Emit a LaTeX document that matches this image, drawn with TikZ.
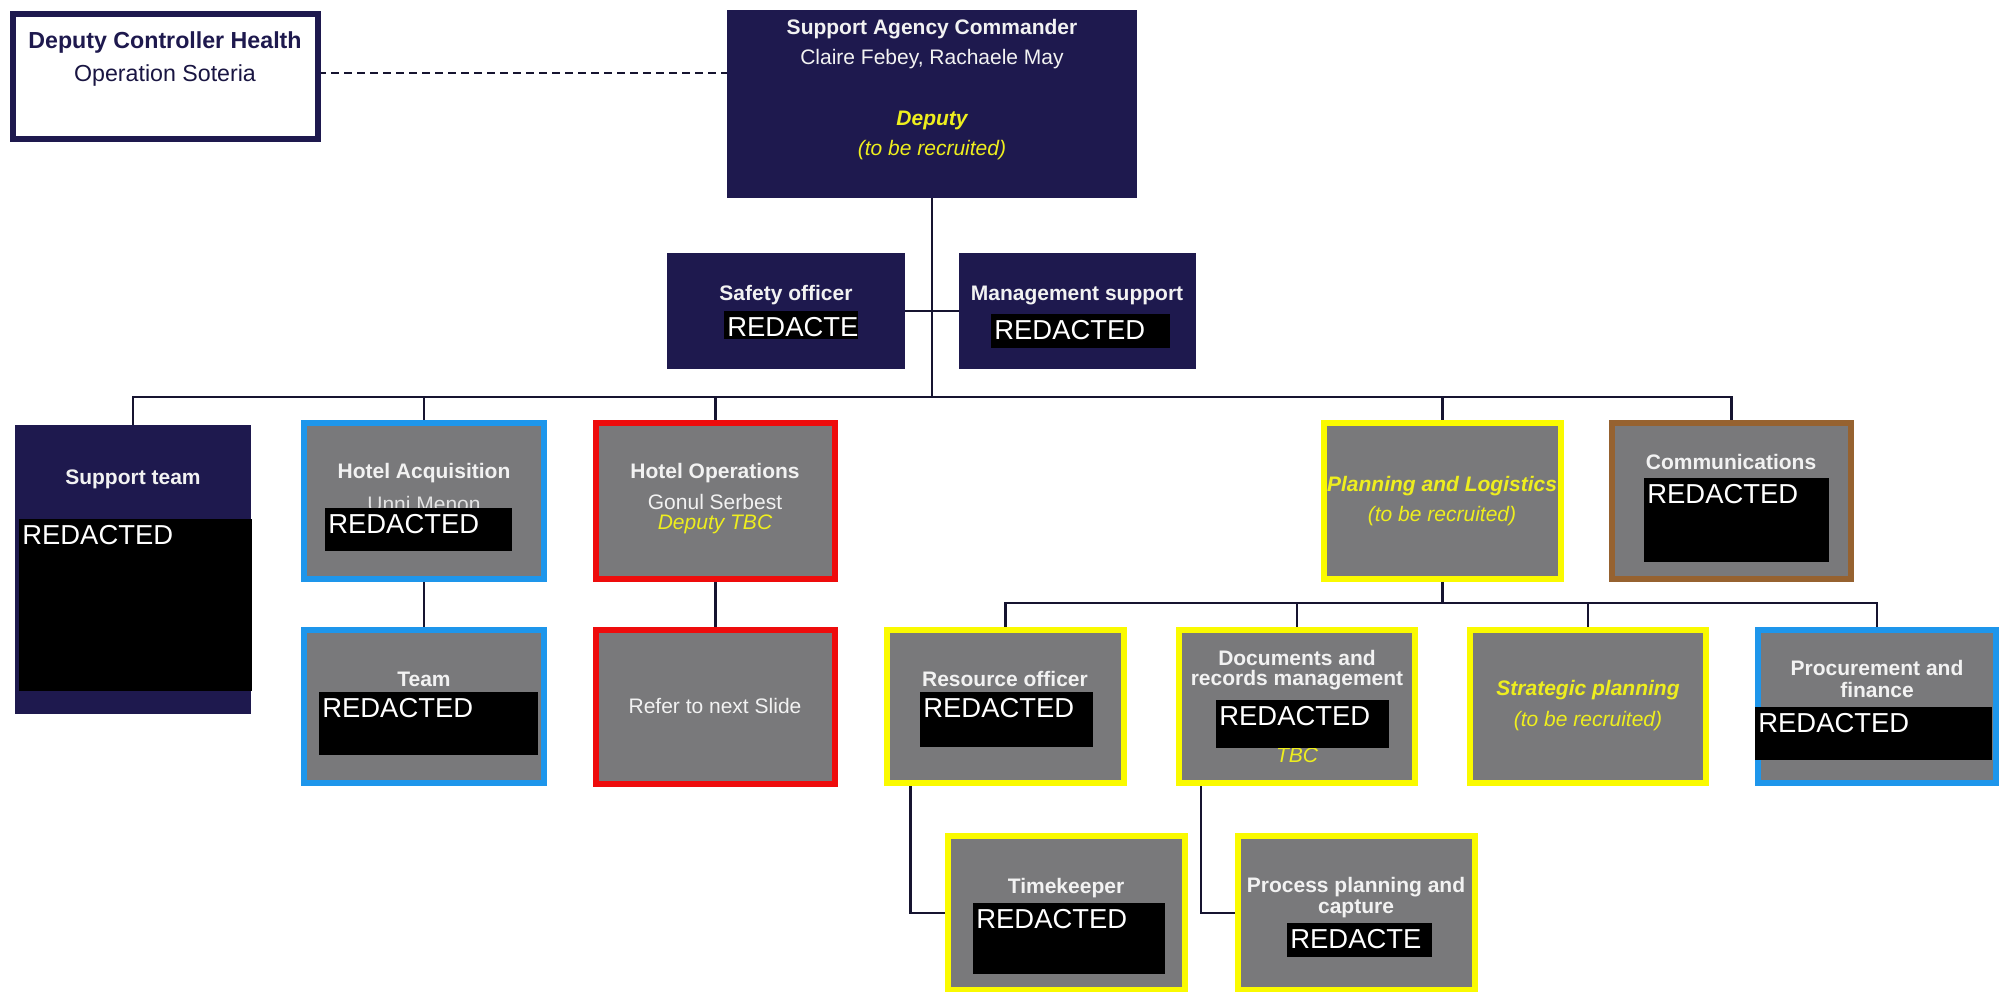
\documentclass[tikz,border=0pt]{standalone}
\usepackage{fontspec}
\setmainfont{Liberation Sans}
\usetikzlibrary{calc,backgrounds}

\definecolor{navy}{RGB}{30,25,78}
\definecolor{boxgray}{RGB}{121,121,123}
\definecolor{edgeblue}{RGB}{30,150,235}
\definecolor{edgered}{RGB}{238,12,12}
\definecolor{edgeyellow}{RGB}{250,250,0}
\definecolor{edgebrown}{RGB}{150,98,48}
\definecolor{txtyellow}{RGB}{238,238,30}
\definecolor{txtwhite}{RGB}{242,242,242}
\definecolor{linkcol}{RGB}{22,20,48}

% #1 name, #2 style, #3 border width (px), #4..#7 outer corners (px)
\newcommand{\orgbox}[7]{%
  \node[#2, minimum width={(#6-#4-#3)*0.5pt}, minimum height={(#7-#5-#3)*0.5pt}]
    (#1) at ({(#4+#6)/2},{(#5+#7)/2}) {};}
% #1 name, #2..#5 corners (px), #6 text
\newcommand{\blackbar}[6]{%
  \node[blackout, minimum width={(#4-#2)*0.5pt}, minimum height={(#5-#3)*0.5pt}]
    (#1) at ({(#2+#4)/2},{(#3+#5)/2}) {};
  \node[blacktext, anchor=west] (#1-txt) at ($(#1.north west)+(3,16)$) {#6};}

\tikzset{
  base/.style={rectangle, inner sep=0pt, outer sep=0pt},
  whitebox/.style={base, draw=navy, line width=3pt, fill=white},
  navybox/.style={base, fill=navy},
  frameblue/.style={base, draw=edgeblue, line width=3pt, fill=boxgray},
  framered/.style={base, draw=edgered, line width=3pt, fill=boxgray},
  frameyellow/.style={base, draw=edgeyellow, line width=3pt, fill=boxgray},
  framebrown/.style={base, draw=edgebrown, line width=3pt, fill=boxgray},
  blackout/.style={base, fill=black},
  blacktext/.style={inner sep=0pt, text=white, font=\fontsize{13.7}{16}\selectfont},
  lblreg/.style={inner sep=0pt, text=txtwhite, font=\fontsize{10.5}{12.6}\selectfont},
  lblbold/.style={inner sep=0pt, text=txtwhite, font=\bfseries\fontsize{10.5}{12.6}\selectfont},
  lblit/.style={inner sep=0pt, text=txtyellow, font=\itshape\fontsize{10.5}{12.6}\selectfont},
  lblbi/.style={inner sep=0pt, text=txtyellow, font=\bfseries\itshape\fontsize{10.5}{12.6}\selectfont},
  link/.style={draw=linkcol, line width=1.4pt},
}

\begin{document}
\begin{tikzpicture}[x=0.5pt, y=-0.5pt]
\useasboundingbox (0,0) rectangle (2007,991);

% ---------- boxes ----------
\orgbox{dch}{whitebox}{6}{10}{11}{321}{142}
\orgbox{sac}{navybox}{0}{727}{10}{1137}{198}
\orgbox{safety}{navybox}{0}{667}{253}{905}{369}
\orgbox{mgmt}{navybox}{0}{959}{253}{1196}{369}

\orgbox{st}{navybox}{0}{15}{425}{251}{714}
\orgbox{ha}{frameblue}{6}{301}{420}{547}{582}
\orgbox{team}{frameblue}{6}{301}{627}{547}{786}
\orgbox{ho}{framered}{6}{593}{420}{838}{582}
\orgbox{refer}{framered}{6}{593}{627}{838}{787}
\orgbox{pl}{frameyellow}{6}{1321}{420}{1564}{582}
\orgbox{comms}{framebrown}{6}{1609}{420}{1854}{582}

\orgbox{res}{frameyellow}{6}{884}{627}{1127}{786}
\orgbox{docs}{frameyellow}{6}{1176}{627}{1418}{786}
\orgbox{strat}{frameyellow}{6}{1467}{627}{1709}{786}
\orgbox{proc}{frameblue}{6}{1755}{627}{1999}{786}

\orgbox{tk}{frameyellow}{6}{945}{833}{1188}{993}
\orgbox{ppc}{frameyellow}{6}{1235}{833}{1478}{993}

% ---------- connectors ----------
\begin{scope}[on background layer]
  \coordinate (busA) at (933,397);
  \coordinate (busB) at (1442,603);
  \draw[link, dashed, dash pattern=on 4pt off 2.5pt, line width=1pt] (dch.east |- 0,73) -- (sac.west |- 0,73);
  \draw[link] (sac.south) -- (sac.south |- busA);
  \draw[link] (safety.east) -- (mgmt.west);
  \draw[link] (st.north) |- (comms.north |- busA) -- (comms.north);
  \draw[link] (ha.north) -- (ha.north |- busA);
  \draw[link] (ho.north) -- (ho.north |- busA);
  \draw[link] (pl.north) -- (pl.north |- busA);
  \draw[link] (ha.south) -- (team.north);
  \draw[link] (ho.south) -- (refer.north);
  \draw[link] (pl.south) -- (pl.south |- busB);
  \draw[link] (res.north) |- (proc.north |- busB) -- (proc.north);
  \draw[link] (docs.north) -- (docs.north |- busB);
  \draw[link] (strat.north) -- (strat.north |- busB);
  \draw[link] ($(res.south)+(-95,0)$) |- (tk.west);
  \draw[link] ($(docs.south)+(-96,0)$) |- (ppc.west);
\end{scope}

% ---------- labels ----------
\node[inner sep=0pt, text=navy, font=\bfseries\fontsize{11.6}{14}\selectfont] (dch-1) at (165,42) {Deputy Controller Health};
\node[inner sep=0pt, text=navy!85!black, font=\fontsize{11.6}{14}\selectfont] (dch-2) at (165,75) {Operation Soteria};

\node[lblbold] (sac-1) at (932,29) {Support Agency Commander};
\node[lblreg] (sac-2) at (932,59) {Claire Febey, Rachaele May};
\node[lblbi] (sac-3) at (932,120) {Deputy};
\node[lblit] (sac-4) at (932,150) {(to be recruited)};

\node[lblbold] (safety-1) at (786,295) {Safety officer};
\node[lblbold] (mgmt-1) at (1077,295) {Management support};

\node[lblbold] (st-1) at (133,479) {Support team};
\node[lblbold] (ha-1) at (424,473) {Hotel Acquisition};
\node[lblreg, text=txtwhite!88!gray] (ha-2) at (424,504) {Unni Menon};
\node[lblbold] (team-1) at (424,679) {Team};
\node[lblbold] (ho-1) at (715,473) {Hotel Operations};
\node[lblreg] (ho-2) at (715,502) {Gonul Serbest};
\node[lblit] (ho-3) at (715,524) {Deputy TBC};
\node[lblreg] (refer-1) at (715,706) {Refer to next Slide};
\node[lblbi] (pl-1) at (1442,486) {Planning and Logistics};
\node[lblit] (pl-2) at (1442,516) {(to be recruited)};
\node[lblbold] (comms-1) at (1731,462) {Communications};

\node[lblbold] (res-1) at (1005,679) {Resource officer};
\node[lblbold] (docs-1) at (1297,658) {Documents and};
\node[lblbold] (docs-2) at (1297,680) {records management};
\node[lblit] (docs-3) at (1297,755) {TBC};
\node[lblbi] (strat-1) at (1588,690) {Strategic planning};
\node[lblit] (strat-2) at (1588,721) {(to be recruited)};
\node[lblbold] (proc-1) at (1877,668) {Procurement and};
\node[lblbold] (proc-2) at (1877,690) {finance};

\node[lblbold] (tk-1) at (1066,888) {Timekeeper};
\node[lblbold] (ppc-1) at (1356,887) {Process planning and};
\node[lblbold] (ppc-2) at (1356,909) {capture};

% ---------- blacked-out names ----------
\blackbar{safety-r}{724}{311}{858}{339}{REDACTE}
\blackbar{mgmt-r}{991}{314}{1170}{348}{REDACTED}
\blackbar{st-r}{19}{519}{252}{691}{REDACTED}
\blackbar{ha-r}{325}{508}{512}{551}{REDACTED}
\blackbar{team-r}{319}{692}{538}{755}{REDACTED}
\blackbar{comms-r}{1644}{478}{1829}{562}{REDACTED}
\blackbar{res-r}{920}{692}{1093}{747}{REDACTED}
\blackbar{docs-r}{1216}{700}{1389}{748}{REDACTED}
\blackbar{proc-r}{1755}{707}{1992}{760}{REDACTED}
\blackbar{tk-r}{973}{903}{1165}{974}{REDACTED}
\blackbar{ppc-r}{1287}{923}{1432}{957}{REDACTE}
\end{tikzpicture}
\end{document}
